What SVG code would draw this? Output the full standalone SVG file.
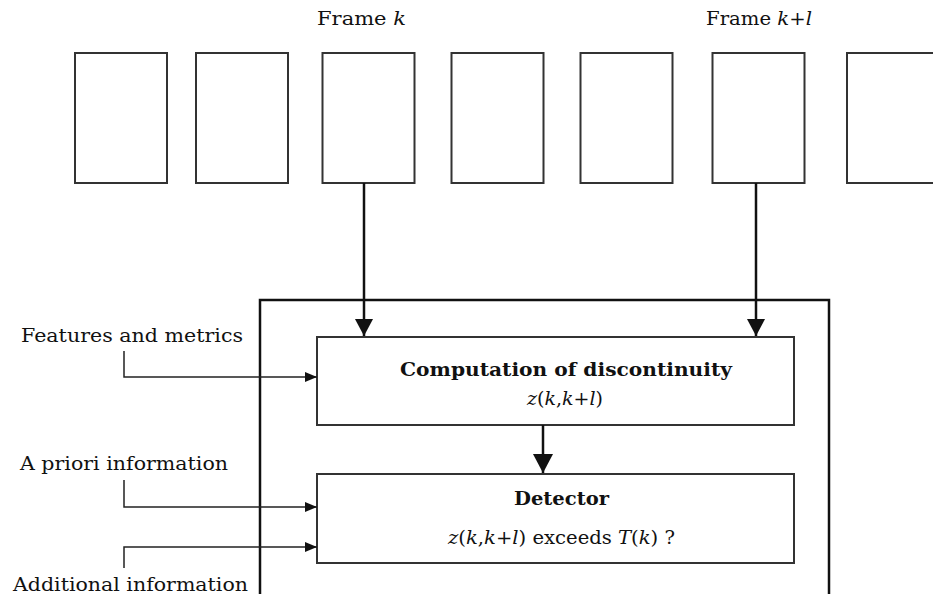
<svg xmlns="http://www.w3.org/2000/svg" width="933" height="594" viewBox="0 0 933 594">
<defs>
<style>
.frame{fill:#fff;stroke:#333;stroke-width:2}
.box{fill:#fff;stroke:#333;stroke-width:2}
.outer{fill:none;stroke:#111;stroke-width:2.5}
.t{font-family:"DejaVu Serif","Liberation Serif",serif;font-size:18.5px;fill:#111}
.b{font-weight:bold}
.i{font-style:italic}
.thin{fill:none;stroke:#222;stroke-width:1.5}
.thick{fill:none;stroke:#111;stroke-width:2.5}
.head{fill:#111}
</style>
<marker id="big" markerUnits="userSpaceOnUse" markerWidth="18" markerHeight="18" refX="17" refY="9" orient="auto"><path d="M0,0 L17,9 L0,18 Z" class="head"/></marker>
<marker id="small" markerUnits="userSpaceOnUse" markerWidth="13" markerHeight="10" refX="12" refY="5" orient="auto"><path d="M0,0 L12,5 L0,10 Z" class="head"/></marker>
<marker id="huge" markerUnits="userSpaceOnUse" markerWidth="20" markerHeight="20" refX="19" refY="10" orient="auto"><path d="M0,0 L19,10 L0,20 Z" class="head"/></marker>
</defs>
<rect width="933" height="594" fill="#fff"/>
<g id="frames">
<rect id="frame1" class="frame" x="75" y="53" width="92" height="130"/>
<rect id="frame2" class="frame" x="196" y="53" width="92" height="130"/>
<rect id="frame3" class="frame" x="322.5" y="53" width="92" height="130"/>
<rect id="frame4" class="frame" x="451.5" y="53" width="92" height="130"/>
<rect id="frame5" class="frame" x="580.5" y="53" width="92" height="130"/>
<rect id="frame6" class="frame" x="712.5" y="53" width="92" height="130"/>
<rect id="frame7" class="frame" x="847" y="53" width="92" height="130"/>
</g>
<g id="frame-labels">
<text class="t" x="317" y="25" textLength="89" lengthAdjust="spacingAndGlyphs">Frame <tspan class="i">k</tspan></text>
<text class="t" x="706" y="25" textLength="106" lengthAdjust="spacingAndGlyphs">Frame <tspan class="i">k</tspan>+<tspan class="i">l</tspan></text>
</g>
<g id="system">
<rect class="outer" x="260" y="300" width="569" height="300"/>
</g>
<g id="computation">
<rect class="box" x="317" y="337" width="477" height="88"/>
<text class="t b" x="400" y="376" textLength="332" lengthAdjust="spacingAndGlyphs">Computation of discontinuity</text>
<text class="t" x="527" y="405" textLength="76" lengthAdjust="spacingAndGlyphs"><tspan class="i">z</tspan>(<tspan class="i">k</tspan>,<tspan class="i">k</tspan>+<tspan class="i">l</tspan>)</text>
</g>
<g id="detector">
<rect class="box" x="317" y="474" width="477" height="89"/>
<text class="t b" x="514" y="505" textLength="95" lengthAdjust="spacingAndGlyphs">Detector</text>
<text class="t" x="448" y="544" textLength="227" lengthAdjust="spacingAndGlyphs"><tspan class="i">z</tspan>(<tspan class="i">k</tspan>,<tspan class="i">k</tspan>+<tspan class="i">l</tspan>) exceeds <tspan class="i">T</tspan>(<tspan class="i">k</tspan>) ?</text>
</g>
<g id="inputs">
<text class="t" x="21" y="342" textLength="222" lengthAdjust="spacingAndGlyphs">Features and metrics</text>
<text class="t" x="20" y="470" textLength="208" lengthAdjust="spacingAndGlyphs">A priori information</text>
<text class="t" x="13" y="591" textLength="235" lengthAdjust="spacingAndGlyphs">Additional information</text>
</g>
<g id="connectors">
<path class="thick" d="M364,183 V336" marker-end="url(#big)"/>
<path class="thick" d="M756,183 V336" marker-end="url(#big)"/>
<path class="thick" d="M543,425 V473" stroke-width="4" marker-end="url(#huge)"/>
<path class="thin" d="M124,351 V377 H317" marker-end="url(#small)"/>
<path class="thin" d="M124,480 V507 H317" marker-end="url(#small)"/>
<path class="thin" d="M124,568 V547 H317" marker-end="url(#small)"/>
</g>
</svg>
